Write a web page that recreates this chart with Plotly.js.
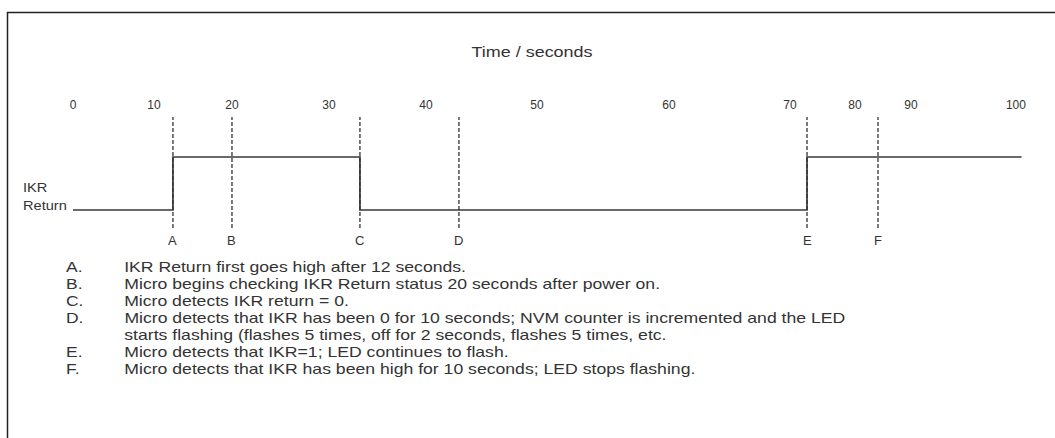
<!DOCTYPE html>
<html>
<head>
<meta charset="utf-8">
<script src="https://cdn.plot.ly/plotly-3.0.1.min.js"></script>
<style>
  html, body { margin: 0; padding: 0; background: #ffffff; }
  #chart { width: 1055px; height: 438px; }
</style>
</head>
<body>
<div id="chart"></div>
<script>
// ---- data (schematic diagram units along the time axis) ----
const tickPositions = [0, 8.59, 16.86, 27.15, 37.43, 49.2, 63.2, 76.03, 82.93, 88.87, 100];
const tickLabels = ['0', '10', '20', '30', '40', '50', '60', '70', '80', '90', '100'];

const eventNames = ['A', 'B', 'C', 'D', 'E', 'F'];
const eventPositions = [10.6, 16.86, 30.43, 40.93, 77.84, 85.37];

const signalTimes = [0, 10.6, 30.43, 77.84, 100.6];
const signalLevels = [0, 1, 0, 1, 1];

const noteLetters = ['A.', 'B.', 'C.', 'D.', '', 'E.', 'F.'];
const noteTexts = [
  'IKR Return first goes high after 12 seconds.',
  'Micro begins checking IKR Return status 20 seconds after power on.',
  'Micro detects IKR return = 0.',
  'Micro detects that IKR has been 0 for 10 seconds; NVM counter is incremented and the LED',
  'starts flashing (flashes 5 times, off for 2 seconds, flashes 5 times, etc.',
  'Micro detects that IKR=1; LED continues to flash.',
  'Micro detects that IKR has been high for 10 seconds; LED stops flashing.'
];

const signalName = 'IKR<br>Return';
const axisTitle = 'Time / seconds';

// ---- layout helpers (pixel -> paper) ----
const W = 1055, H = 438;
const px = v => v / W;
const py = v => (H - v) / H;

const FONT = 'Liberation Sans, Arial, Helvetica, sans-serif';
const INK = '#333333';

const traces = [{
  type: 'scatter',
  mode: 'lines',
  x: signalTimes,
  y: signalLevels,
  line: { shape: 'hv', color: '#3a3a3a', width: 1.7 },
  hoverinfo: 'skip',
  showlegend: false
}];

const shapes = [];
// frame: top and left border
shapes.push({ type: 'line', xref: 'paper', yref: 'paper', x0: px(7), x1: px(1055), y0: py(12.5), y1: py(12.5), line: { color: '#222222', width: 1.5 } });
shapes.push({ type: 'line', xref: 'paper', yref: 'paper', x0: px(7.5), x1: px(7.5), y0: py(12), y1: py(438), line: { color: '#222222', width: 1.5 } });

// dashed event markers
eventPositions.forEach(p => {
  shapes.push({ type: 'line', xref: 'x', yref: 'y', x0: p, x1: p, y0: -0.34, y1: 1.755,
    line: { color: '#333333', width: 1.3, dash: '4px,2px' } });
});

const annotations = [];
const stretch = {}; // annotation index -> horizontal text stretch (the source lettering is wide)
eventNames.forEach((n, i) => {
  annotations.push({ xref: 'x', yref: 'y', x: eventPositions[i], y: -0.58, text: n, showarrow: false,
    xanchor: 'center', yanchor: 'middle', font: { family: FONT, size: 13, color: INK } });
});

stretch[annotations.length] = 1.08;
annotations.push({ xref: 'paper', yref: 'paper', x: px(21), y: py(196), text: signalName, showarrow: false,
  xanchor: 'left', yanchor: 'middle', align: 'left', font: { family: FONT, size: 13.5, color: INK } });

noteTexts.forEach((t, i) => {
  const yy = 267 + i * 17;
  if (noteLetters[i]) {
    stretch[annotations.length] = 1.25;
    annotations.push({ xref: 'paper', yref: 'paper', x: px(64), y: py(yy), text: noteLetters[i], showarrow: false,
      xanchor: 'left', yanchor: 'middle', font: { family: FONT, size: 14, color: INK } });
  }
  stretch[annotations.length] = 1.26;
  annotations.push({ xref: 'paper', yref: 'paper', x: px(122), y: py(yy), text: t, showarrow: false,
    xanchor: 'left', yanchor: 'middle', font: { family: FONT, size: 14, color: INK } });
});

const layout = {
  width: W, height: H,
  margin: { l: 0, r: 0, t: 0, b: 0 },
  paper_bgcolor: '#ffffff', plot_bgcolor: 'rgba(0,0,0,0)',
  title: { text: axisTitle, x: px(532), y: py(52), xanchor: 'center', yanchor: 'middle', xref: 'paper', yref: 'paper',
    font: { family: FONT, size: 14.5, color: INK } },
  xaxis: {
    domain: [0, 1], range: [-7.741, 104.14], side: 'top',
    tickmode: 'array', tickvals: tickPositions, ticktext: tickLabels,
    ticks: '', showline: false, showgrid: false, zeroline: false,
    tickfont: { family: FONT, size: 12, color: INK }, fixedrange: true
  },
  yaxis: {
    domain: [0, 1 - 112 / H], range: [-4.302, 1.849],
    showticklabels: false, ticks: '', showline: false, showgrid: false, zeroline: false, fixedrange: true
  },
  shapes: shapes,
  annotations: annotations,
  showlegend: false
};

// widen text horizontally about its left edge (or centre)
function widen(el, s, centre) {
  const b = el.getBBox();
  const x = centre ? b.x + b.width / 2 : b.x;
  const prev = el.getAttribute('transform') || '';
  el.setAttribute('transform', (prev + ' translate(' + x + ',0) scale(' + s + ',1) translate(' + (-x) + ',0)').trim());
}

Plotly.newPlot('chart', traces, layout, { displayModeBar: false, staticPlot: true }).then(gd => {
  Object.keys(stretch).forEach(k => {
    gd.querySelectorAll('.annotation[data-index="' + k + '"] text.annotation-text').forEach(el => widen(el, stretch[k], false));
  });
  gd.querySelectorAll('text.gtitle').forEach(el => widen(el, 1.24, true));
});
</script>
</body>
</html>
